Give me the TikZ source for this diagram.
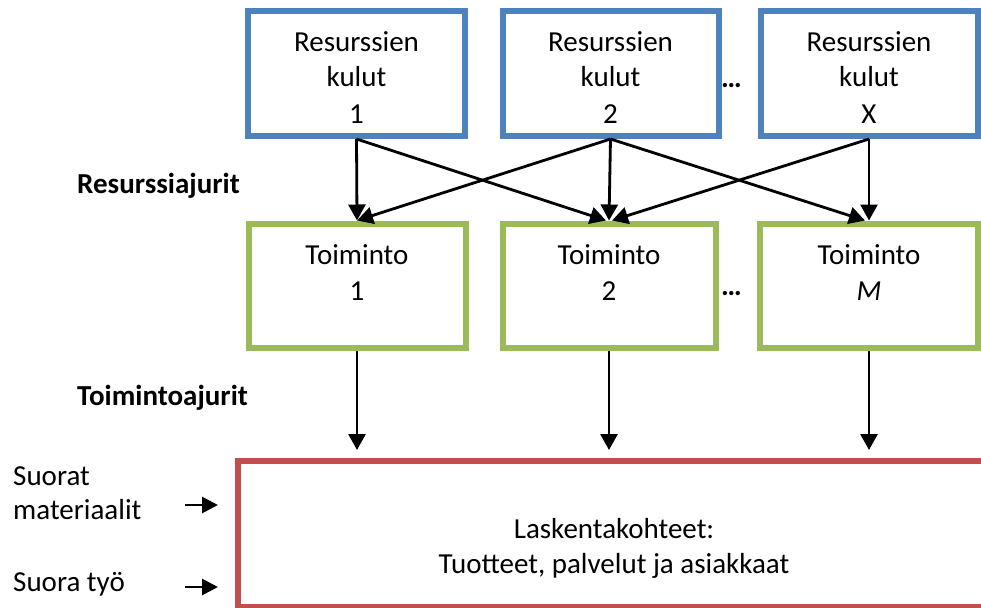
\documentclass[tikz,border=0pt]{standalone}
\usepackage{fontspec}
\setmainfont{Carlito}
\usetikzlibrary{arrows.meta,calc}
\definecolor{boxblue}{HTML}{4F81BD}
\definecolor{boxgreen}{HTML}{9BBB59}
\definecolor{boxred}{HTML}{C0504D}
\begin{document}
\begin{tikzpicture}[x=1pt,y=-1pt,
  box/.style={draw, line width=6pt, rectangle, inner sep=0pt, minimum height=124.5pt},
  resbox/.style={box, draw=boxblue},
  actbox/.style={box, draw=boxgreen},
  objbox/.style={draw=boxred, line width=6pt, rectangle, inner sep=0pt},
  txt/.style={font=\fontsize{29}{35}\selectfont, anchor=base, inner sep=0pt},
  lefttxt/.style={font=\fontsize{29}{35}\selectfont, anchor=base west, inner sep=0pt},
  lbl/.style={font=\fontsize{29}{35}\selectfont\bfseries, anchor=base west, inner sep=0pt},
  dots/.style={font=\fontsize{29}{35}\selectfont\bfseries, anchor=base, inner sep=0pt},
  arr/.style={line width=2.8pt, -{Triangle[length=16pt,width=17pt]}},
  sarr/.style={line width=2.8pt, -{Triangle[length=16pt,width=16pt]}},
  ]
\useasboundingbox (0,0) rectangle (981,607);
\clip (0,0) rectangle (981,607);
% resource boxes
\node[resbox, minimum width=217pt] (r1) at (356.5,73.75) {};
\node[resbox, minimum width=216pt] (r2) at (610.5,73.75) {};
\node[resbox, minimum width=217pt] (rX) at (869,73.75) {};
\node[txt] (r1a) at (356.5,52) {Resurssien};
\node[txt] (r1b) at (356.5,87) {kulut};
\node[txt] (r1c) at (356.5,123.5) {1};
\node[txt] (r2a) at (610.5,52) {Resurssien};
\node[txt] (r2b) at (610.5,87) {kulut};
\node[txt] (r2c) at (610.5,123.5) {2};
\node[txt] (rXa) at (869,52) {Resurssien};
\node[txt] (rXb) at (869,87) {kulut};
\node[txt] (rXc) at (869,123.5) {X};
\node[dots] (d1) at (731.5,88) {…};
% activity boxes
\node[actbox, minimum width=217pt] (t1) at (357,285.75) {};
\node[actbox, minimum width=213pt] (t2) at (609,285.75) {};
\node[actbox, minimum width=218pt] (tM) at (869,285.75) {};
\node[txt] (t1a) at (357,264) {Toiminto};
\node[txt] (t1b) at (357,300) {1};
\node[txt] (t2a) at (609,264) {Toiminto};
\node[txt] (t2b) at (609,300) {2};
\node[txt] (tMa) at (869,264) {Toiminto};
\node[txt] (tMb) at (869,300) {\itshape M};
\node[dots] (d2) at (731.5,295) {…};
% cost objects
\node[objbox, minimum width=752pt, minimum height=146pt] (lk) at (614,534) {};
\node[txt] (lka) at (614,538) {Laskentakohteet:};
\node[txt] (lkb) at (614,573) {Tuotteet, palvelut ja asiakkaat};
% labels
\node[lbl] (rd) at (77,193) {Resurssiajurit};
\node[lbl] (td) at (77,405) {Toimintoajurit};
\node[lefttxt] (sm1) at (13,485) {Suorat};
\node[lefttxt] (sm2) at (13,519) {materiaalit};
\node[lefttxt] (st) at (13,591) {Suora työ};
% resource driver arrows
\draw[arr] (r1.south) -- (t1.north);
\draw[arr] (r1.south) -- ([xshift=-3pt]t2.north);
\draw[arr] (r2.south) -- (t1.north);
\draw[arr] (r2.south) -- (t2.north);
\draw[arr] (r2.south) -- ([xshift=-4pt]tM.north);
\draw[arr] (rX.south) -- (tM.north);
\draw[arr] (rX.south) -- ([xshift=3pt]t2.north);
% activity driver arrows
\coordinate (e1) at ($(t1.south |- lk.north)+(0,-8)$);
\coordinate (e2) at ($(t2.south |- lk.north)+(0,-8)$);
\coordinate (e3) at ($(tM.south |- lk.north)+(0,-8)$);
\draw[arr] (t1.south) -- (e1);
\draw[arr] (t2.south) -- (e2);
\draw[arr] (tM.south) -- (e3);
% direct cost arrows
\coordinate (a1s) at (185,505);
\coordinate (a1e) at (218,505);
\coordinate (a2s) at (185,587);
\coordinate (a2e) at (218,587);
\draw[sarr] (a1s) -- (a1e);
\draw[sarr] (a2s) -- (a2e);
\end{tikzpicture}
\end{document}
